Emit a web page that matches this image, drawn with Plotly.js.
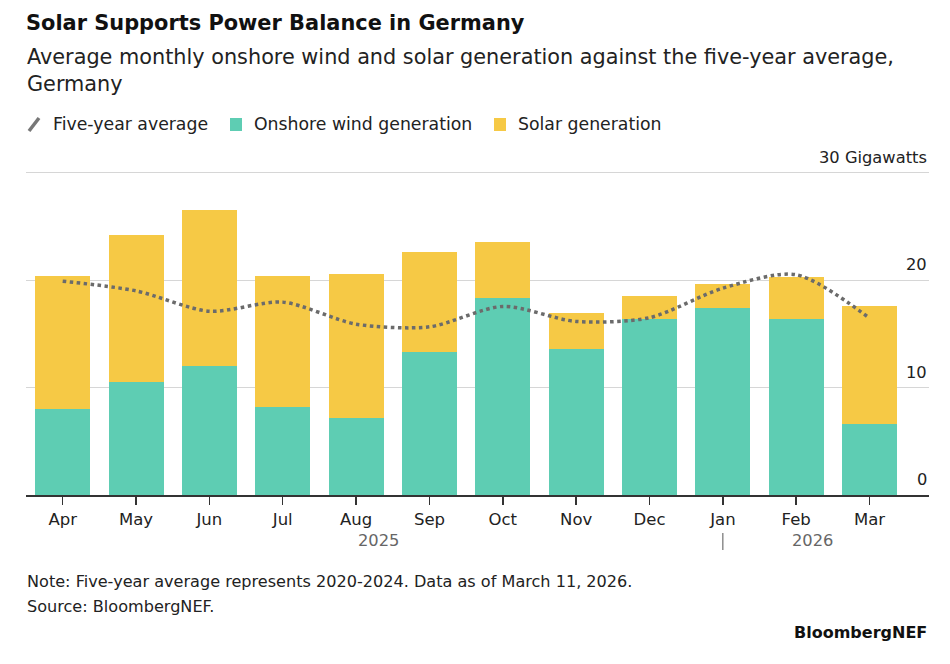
<!DOCTYPE html>
<html>
<head>
<meta charset="utf-8">
<script src="https://cdn.plot.ly/plotly-3.0.1.min.js"></script>
<style>
  html, body { margin: 0; padding: 0; background: #fff; }
  #chart { width: 950px; height: 664px; }
</style>
</head>
<body>
<div id="chart"></div>
<script>
// ---- Data (GW) ----
const months = ["Apr", "May", "Jun", "Jul", "Aug", "Sep", "Oct", "Nov", "Dec", "Jan", "Feb", "Mar"];
const windGen = [8.0, 10.5, 12.0, 8.2, 7.2, 13.3, 18.3, 13.6, 16.4, 17.4, 16.4, 6.6];
const solarGen = [12.4, 13.7, 14.5, 12.2, 13.4, 9.3, 5.2, 3.3, 2.1, 2.2, 3.9, 11.0];
const fiveYearAvg = [19.9, 19.0, 17.1, 17.95, 15.9, 15.65, 17.55, 16.15, 16.5, 19.25, 20.5, 16.45];
const yTickVals = [0, 10, 20, 30];
const yTickText = ["0", "10", "20", "30 Gigawatts"];

// ---- Layout helpers (pixel -> paper) ----
const W = 950, H = 664;
const M = { l: 26, r: 21, t: 149, b: 169 };
const PW = W - M.l - M.r, PH = H - M.t - M.b;
const px = x => (x - M.l) / PW;
const py = y => (H - M.b - y) / PH;

const FONT = "DejaVu Sans, Verdana, sans-serif";
const WIND = "#5ecdb3", SOLAR = "#f6c945", LINE = "#6b6b6b";

const traces = [
  {
    type: "bar", name: "Onshore wind generation", x: months, y: windGen,
    marker: { color: WIND }, hoverinfo: "skip"
  },
  {
    type: "bar", name: "Solar generation", x: months, y: solarGen,
    marker: { color: SOLAR }, hoverinfo: "skip"
  },
  {
    type: "scatter", mode: "lines", name: "Five-year average", x: months, y: fiveYearAvg,
    line: { color: LINE, width: 3.5, dash: "dot", shape: "spline", smoothing: 0.8 },
    hoverinfo: "skip"
  }
];

const ann = (text, x, y, opts = {}) => Object.assign({
  text, xref: "paper", yref: "paper", x: px(x), y: py(y),
  xanchor: "left", yanchor: "middle", showarrow: false,
  font: { family: FONT, size: 16, color: "#222" }
}, opts);

// y-axis labels sit above their gridlines at the right end
const yLabelAnns = yTickVals.map((v, i) => ({
  text: yTickText[i], xref: "paper", yref: "y", x: 1, y: v,
  xanchor: "right", yanchor: "bottom", yshift: 4, showarrow: false,
  font: { family: FONT, size: 16.3, color: "#222" }
}));

const layout = {
  width: W, height: H,
  margin: M,
  paper_bgcolor: "#fff", plot_bgcolor: "#fff",
  barmode: "stack", bargap: 0.25,
  showlegend: false,
  font: { family: FONT, color: "#222" },
  title: {
    text: "<b>Solar Supports Power Balance in Germany</b>",
    x: M.l / W, xanchor: "left", xref: "container",
    y: 1 - 23 / H, yanchor: "middle", yref: "container",
    font: { family: FONT, size: 20.9, color: "#111" }
  },
  xaxis: {
    type: "category", range: [-0.5, 11.81], fixedrange: true,
    showgrid: false, showline: true, linecolor: "#333", linewidth: 2,
    ticks: "outside", ticklen: 8, tickwidth: 1.5, tickcolor: "#333",
    tickfont: { family: FONT, size: 16.5, color: "#222" }
  },
  yaxis: {
    side: "right", range: [0, 32.2], fixedrange: true,
    tickvals: yTickVals, showticklabels: false,
    showgrid: true, gridcolor: "#d6d6d6", gridwidth: 1,
    zeroline: false, ticks: ""
  },
  shapes: [
    // year separator under Jan
    { type: "line", xref: "x", yref: "paper", x0: 9, x1: 9, y0: py(533), y1: py(550),
      line: { color: "#555", width: 1 } },
    // legend icons
    { type: "line", xref: "paper", yref: "paper", x0: px(29), y0: py(131), x1: px(39), y1: py(118),
      line: { color: "#777", width: 3.5 } },
    { type: "rect", xref: "paper", yref: "paper", x0: px(230), x1: px(242), y0: py(131), y1: py(118),
      fillcolor: WIND, line: { width: 0 } },
    { type: "rect", xref: "paper", yref: "paper", x0: px(494), x1: px(506), y0: py(131), y1: py(118),
      fillcolor: SOLAR, line: { width: 0 } }
  ],
  annotations: yLabelAnns.concat([
    ann("Average monthly onshore wind and solar generation against the five-year average,",
        25, 57, { font: { family: FONT, size: 20.8, color: "#222" } }),
    ann("Germany", 25, 84, { font: { family: FONT, size: 20.8, color: "#222" } }),
    ann("Five-year average", 51, 124, { font: { family: FONT, size: 17.3, color: "#222" } }),
    ann("Onshore wind generation", 252, 124, { font: { family: FONT, size: 17.3, color: "#222" } }),
    ann("Solar generation", 516, 124, { font: { family: FONT, size: 17.3, color: "#222" } }),
    ann("2025", 378, 540, { xanchor: "center", font: { family: FONT, size: 16.3, color: "#666" } }),
    ann("2026", 812, 540, { xanchor: "center", font: { family: FONT, size: 16.3, color: "#666" } }),
    ann("Note: Five-year average represents 2020-2024. Data as of March 11, 2026.", 25, 581,
        { font: { family: FONT, size: 16.1, color: "#222" } }),
    ann("Source: BloombergNEF.", 25, 606, { font: { family: FONT, size: 16.1, color: "#222" } }),
    ann("<b>BloombergNEF</b>", 929, 632, { xanchor: "right", font: { family: FONT, size: 16, color: "#111" } })
  ])
};

Plotly.newPlot("chart", traces, layout, { displayModeBar: false, staticPlot: true });
</script>
</body>
</html>
